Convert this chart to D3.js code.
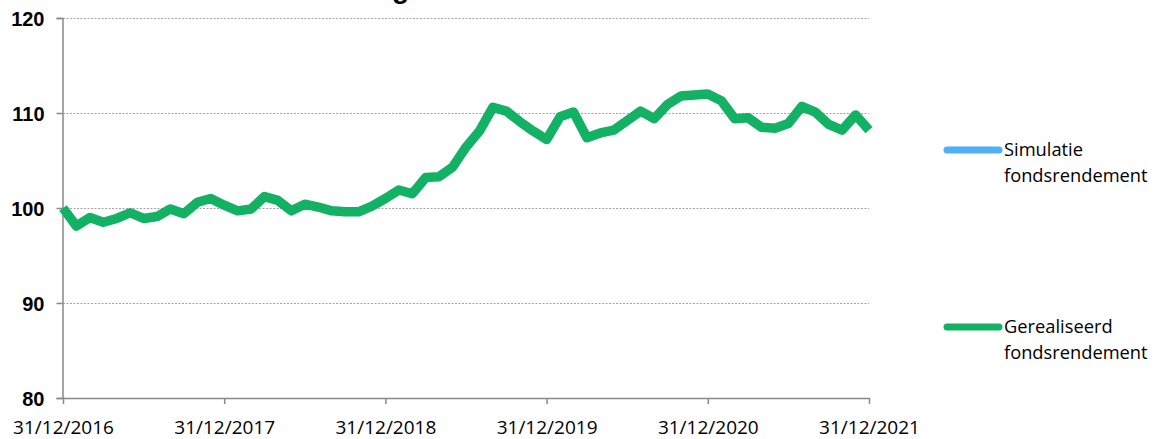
<!DOCTYPE html>
<html>
<head>
<meta charset="utf-8">
<script src="https://cdn.jsdelivr.net/npm/d3@7"></script>
<style>
  html, body { margin: 0; padding: 0; background: #fff; }
  svg { display: block; }
</style>
</head>
<body>
<svg id="chart" width="1155" height="439"></svg>
<script>
// ---- data ----
const startDate = "2016-12-31";
const yTicks = [80, 90, 100, 110, 120];
const xTickLabels = ["31/12/2016", "31/12/2017", "31/12/2018", "31/12/2019", "31/12/2020", "31/12/2021"];
const seriesNames = ["Simulatie fondsrendement", "Gerealiseerd fondsrendement"];
const simulatieValues = []; // not visible in the chart
const gerealiseerdValues = [
  100.0, 98.1, 99.0, 98.5, 98.9, 99.5, 98.9, 99.1, 99.9, 99.4, 100.6, 101.0,
  100.3, 99.7, 99.9, 101.2, 100.8, 99.7, 100.4, 100.1, 99.7, 99.6, 99.6, 100.2,
  101.0, 101.9, 101.5, 103.2, 103.3, 104.3, 106.4, 108.1, 110.6, 110.2, 109.1, 108.1,
  107.2, 109.6, 110.1, 107.4, 107.9, 108.2, 109.2, 110.2, 109.4, 110.9, 111.8, 111.9,
  112.0, 111.3, 109.4, 109.5, 108.5, 108.4, 108.9, 110.7, 110.1, 108.8, 108.2, 109.8,
  108.2
];

// ---- layout ----
const svg = d3.select("#chart");
const M = { left: 63, right: 869, top: 18, bottom: 398 };
const green = "#13b163";
const blue = "#4fb0f6";

const x = d3.scaleLinear().domain([0, 60]).range([M.left, M.right]);
const y = d3.scaleLinear().domain([80, 120]).range([M.bottom, M.top]);

// title (mostly cut off above the frame, as in the reference)
svg.append("text")
  .attr("x", 409).attr("y", -2)
  .attr("text-anchor", "end")
  .attr("font-family", "Liberation Sans, Arial, sans-serif")
  .attr("font-weight", "bold")
  .attr("font-size", 28)
  .text("Rendementsontwikkeling");

// gridlines
svg.append("g").selectAll("line")
  .data(yTicks.filter(t => t > 80))
  .join("line")
  .attr("x1", M.left).attr("x2", M.right)
  .attr("y1", d => Math.round(y(d)) + 0.5).attr("y2", d => Math.round(y(d)) + 0.5)
  .attr("stroke", "#a6a6a6").attr("stroke-width", 1)
  .attr("stroke-dasharray", "2,1.5");

// y axis
const yAxis = d3.axisLeft(y).tickValues(yTicks).tickSize(6).tickPadding(12).tickFormat(d3.format("d"));
const gy = svg.append("g").attr("transform", `translate(${M.left - 0.5},0)`).call(yAxis);
gy.select(".domain").attr("stroke", "#898989").attr("stroke-width", 1.5);
gy.selectAll(".tick line").attr("stroke", "#898989").attr("stroke-width", 1.5);
gy.selectAll(".tick text")
  .attr("font-family", "Liberation Sans, Arial, sans-serif")
  .attr("font-weight", "bold").attr("font-size", 20).attr("fill", "#000")
  .attr("dy", "0.35em");

// x axis
const xAxis = d3.axisBottom(x).tickValues([0, 12, 24, 36, 48, 60])
  .tickFormat((d, i) => xTickLabels[i]).tickSize(6).tickSizeOuter(0).tickPadding(17);
const gx = svg.append("g").attr("transform", `translate(0,${M.bottom})`).call(xAxis);
gx.select(".domain").attr("stroke", "#898989").attr("stroke-width", 1.5);
gx.selectAll(".tick line").attr("stroke", "#898989").attr("stroke-width", 1.5);
gx.selectAll(".tick text")
  .attr("font-family", "Open Sans, sans-serif")
  .attr("font-size", 19).attr("fill", "#000");

// line
const line = d3.line().x((d, i) => x(i)).y(d => y(d)).curve(d3.curveLinear);
svg.append("path")
  .datum(gerealiseerdValues)
  .attr("d", line)
  .attr("fill", "none")
  .attr("stroke", green)
  .attr("stroke-width", 9.5)
  .attr("stroke-linejoin", "round")
  .attr("stroke-linecap", "butt");

// legend
const legendItems = [
  { name: seriesNames[0], color: blue, y: 150 },
  { name: seriesNames[1], color: green, y: 327 }
];
const lg = svg.append("g");
legendItems.forEach(it => {
  lg.append("line")
    .attr("x1", 947).attr("x2", 999)
    .attr("y1", it.y).attr("y2", it.y)
    .attr("stroke", it.color).attr("stroke-width", 7).attr("stroke-linecap", "round");
  const parts = it.name.split(" ");
  const t = lg.append("text")
    .attr("x", 1004).attr("y", it.y + 6)
    .attr("font-family", "Open Sans, sans-serif")
    .attr("font-size", 18.3).attr("fill", "#000");
  parts.forEach((p, i) => {
    t.append("tspan").attr("x", 1004).attr("dy", i === 0 ? 0 : 26).text(p);
  });
});
</script>
</body>
</html>
